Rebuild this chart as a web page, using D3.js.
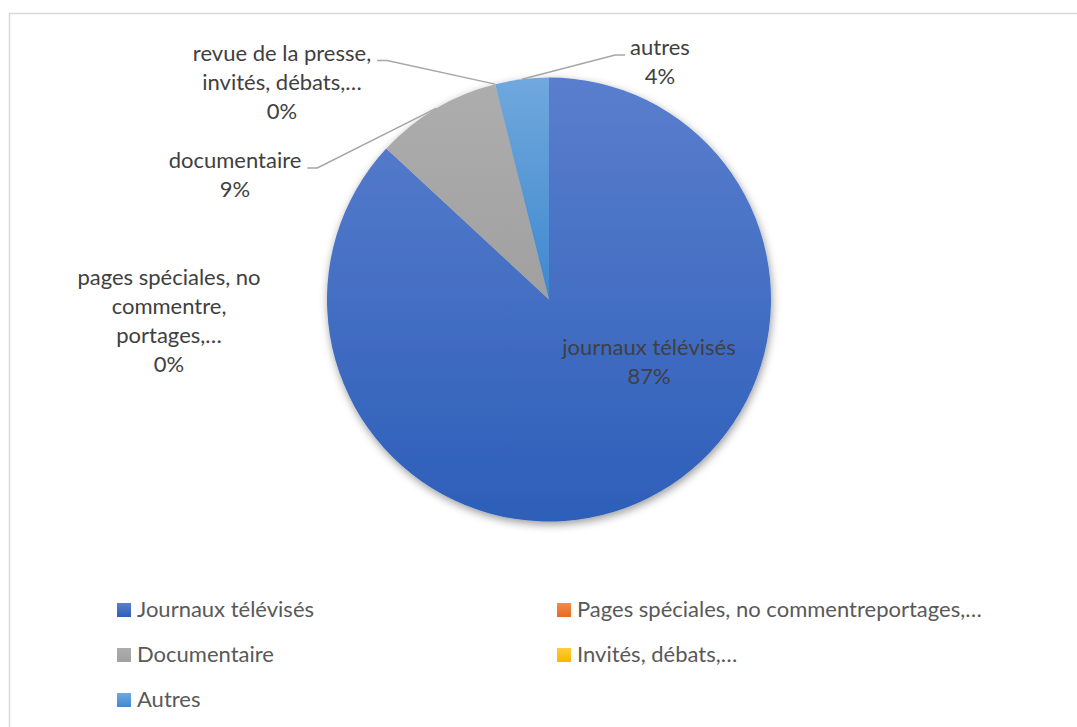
<!DOCTYPE html>
<html>
<head>
<meta charset="utf-8">
<script src="https://cdn.jsdelivr.net/npm/d3@7"></script>
<style>
  html, body { margin: 0; padding: 0; background: #fff; }
  svg { display: block; }
  text { font-family: Lato, "Open Sans", sans-serif; }
</style>
</head>
<body>
<div id="chart"></div>
<script>
// data
const keys = ["journaux", "pages", "documentaire", "revue", "autres"];
const values = [0.869, 0, 0.092, 0, 0.039];
const pctLabels = ["87%", "0%", "9%", "0%", "4%"];
const sliceNames = [
    ["journaux télévisés"],
    ["pages spéciales, no", "commentre,", "portages,…"],
    ["documentaire"],
    ["revue de la presse,", "invités, débats,…"],
    ["autres"]
];
const legendNames = [
    "Journaux télévisés",
    "Pages spéciales, no commentreportages,…",
    "Documentaire",
    "Invités, débats,…",
    "Autres"
];
const colorTop = ["#5a7ecd", "#f48a4c", "#adadad", "#ffcd3a", "#70a8dd"];
const colorBottom = ["#2d5fb9", "#e8691e", "#a0a0a0", "#f4b800", "#3f88cf"];

const width = 1077, height = 727;
const cx = 549, cy = 299.5, radius = 222;
const fontSize = 22, lineGap = 29;

// label placement relative to pie centre (first baseline, centred text)
const labelPos = {
    journaux:     {dx: 100,  dy: 55.5, leader: null},
    pages:        {dx: -380, dy: -15,  leader: null},
    documentaire: {dx: -314, dy: -131.5, leader: "right"},
    revue:        {dx: -267, dy: -239, leader: "right"},
    autres:       {dx: 111,  dy: -244.5, leader: "left"}
};

const svg = d3.select("#chart").append("svg")
    .attr("width", width)
    .attr("height", height);

const defs = svg.append("defs");

keys.forEach((k, i) => {
    const grad = defs.append("linearGradient")
        .attr("id", "grad-" + k)
        .attr("x1", 0).attr("y1", 0).attr("x2", 0).attr("y2", 1);
    grad.append("stop").attr("offset", "0%").attr("stop-color", colorTop[i]);
    grad.append("stop").attr("offset", "100%").attr("stop-color", colorBottom[i]);
});

const shadow = defs.append("filter")
    .attr("id", "shadow")
    .attr("x", "-10%").attr("y", "-10%")
    .attr("width", "120%").attr("height", "125%");
shadow.append("feDropShadow")
    .attr("dx", 1).attr("dy", 3)
    .attr("stdDeviation", 4)
    .attr("flood-color", "#000")
    .attr("flood-opacity", 0.4);

// chart border
svg.append("rect")
    .attr("x", 9.5).attr("y", 13.5)
    .attr("width", width + 20).attr("height", height + 20)
    .attr("fill", "none")
    .attr("stroke", "#d9d9d9")
    .attr("stroke-width", 1.5);

const pie = d3.pie().sort(null).value(d => d.value);
const arcs = pie(keys.map((k, i) => ({key: k, value: values[i], idx: i})));

const arc = d3.arc().innerRadius(0).outerRadius(radius);

const g = svg.append("g")
    .attr("transform", `translate(${cx},${cy})`);

g.append("g")
    .attr("filter", "url(#shadow)")
    .selectAll("path")
    .data(arcs.filter(d => d.value > 0))
    .join("path")
    .attr("d", arc)
    .attr("fill", d => `url(#grad-${d.data.key})`);

// data labels
const labels = g.append("g");
arcs.forEach(d => {
    const i = d.data.idx;
    const pos = labelPos[d.data.key];
    const lines = sliceNames[i].concat([pctLabels[i]]);
    const t = labels.append("text")
        .attr("text-anchor", "middle")
        .attr("font-size", fontSize)
        .attr("fill", "#404040");
    lines.forEach((ln, j) => {
        t.append("tspan")
            .attr("x", pos.dx)
            .attr("y", pos.dy + j * lineGap)
            .text(ln);
    });

    if (pos.leader) {
        const first = t.select("tspan").node();
        const w = first.getComputedTextLength();
        const mid = (d.startAngle + d.endAngle) / 2;
        const ex = radius * Math.sin(mid), ey = -radius * Math.cos(mid);
        const sx = pos.leader === "right" ? pos.dx + w / 2 + 6 : pos.dx - w / 2 - 5;
        const bx = pos.leader === "right" ? sx + 10 : sx - 10;
        const ly = pos.dy;
        labels.append("path")
            .attr("d", d3.line()([[sx, ly], [bx, ly], [ex, ey]]))
            .attr("fill", "none")
            .attr("stroke", "#a6a6a6")
            .attr("stroke-width", 1.5);
    }
});

// legend
const legend = svg.append("g");
const colX = [117, 557], rowY = [617, 662, 707];
legendNames.forEach((name, i) => {
    const col = i % 2, row = Math.floor(i / 2);
    const item = legend.append("g")
        .attr("transform", `translate(${colX[col]},${rowY[row]})`);
    item.append("rect")
        .attr("x", 0).attr("y", -14)
        .attr("width", 14).attr("height", 14)
        .attr("fill", `url(#grad-${keys[i]})`);
    item.append("text")
        .attr("x", 20).attr("y", 0)
        .attr("font-size", fontSize)
        .attr("fill", "#595959")
        .text(name);
});
</script>
</body>
</html>
